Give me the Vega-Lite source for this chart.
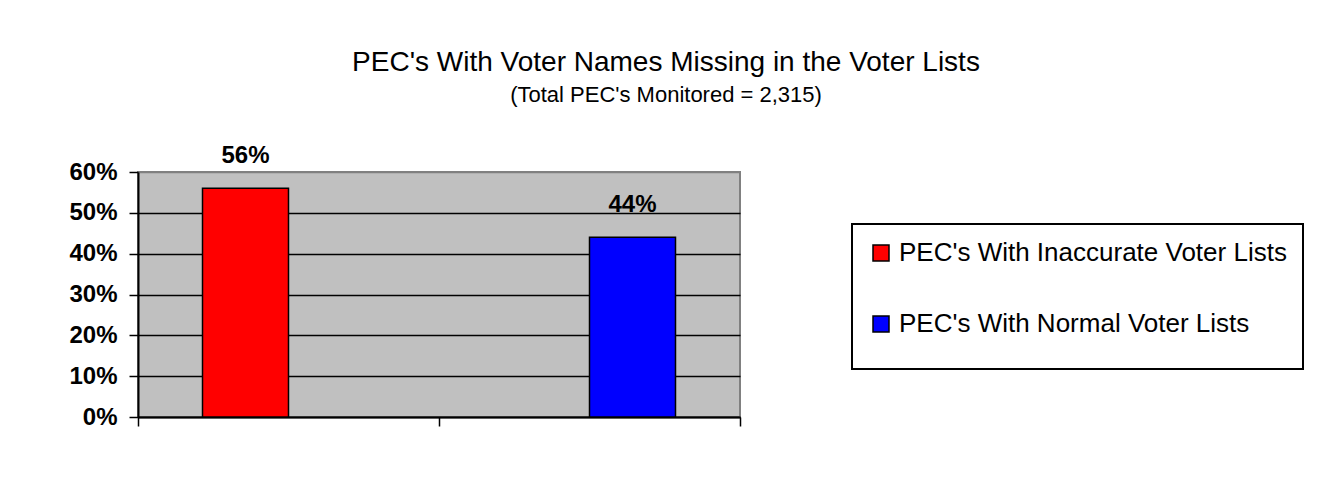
{
  "$schema": "https://vega.github.io/schema/vega-lite/v6.json",
  "autosize": {"type": "none"},
  "width": 602,
  "height": 245,
  "padding": {"left": 138, "top": 172, "right": 587, "bottom": 65},
  "background": "white",
  "title": {
    "text": "PEC's With Voter Names Missing in the Voter Lists",
    "subtitle": "(Total PEC's Monitored = 2,315)",
    "anchor": "middle",
    "frame": "group",
    "dx": 227,
    "offset": 38,
    "font": "Liberation Sans",
    "fontSize": 28,
    "fontWeight": "normal",
    "color": "black",
    "subtitleFont": "Liberation Sans",
    "subtitleFontSize": 22,
    "subtitleColor": "black",
    "subtitlePadding": 8
  },
  "data": {
    "values": [
      {"cat": "A", "series": "PEC's With Inaccurate Voter Lists", "value": 0.56},
      {"cat": "B", "series": "PEC's With Normal Voter Lists", "value": 0.44}
    ]
  },
  "encoding": {
    "x": {
      "field": "cat",
      "type": "nominal",
      "scale": {"domain": ["A", "B"], "paddingInner": 0, "paddingOuter": 0},
      "axis": {
        "title": null,
        "labels": false,
        "tickBand": "extent",
        "tickSize": 9,
        "tickWidth": 1.5,
        "tickColor": "black",
        "domainColor": "black",
        "domainWidth": 2,
        "grid": false
      }
    },
    "xOffset": {
      "field": "series",
      "type": "nominal",
      "scale": {
        "domain": ["PEC's With Inaccurate Voter Lists", "PEC's With Normal Voter Lists"],
        "paddingInner": 0,
        "paddingOuter": 0.75
      }
    },
    "y": {
      "field": "value",
      "type": "quantitative",
      "scale": {"domain": [0, 0.6], "nice": false},
      "axis": {
        "title": null,
        "values": [0, 0.1, 0.2, 0.3, 0.4, 0.5, 0.6],
        "format": ".0%",
        "labelFont": "Liberation Sans",
        "labelFontSize": 24,
        "labelFontWeight": "bold",
        "labelColor": "black",
        "labelPadding": 12,
        "tickSize": 9,
        "tickWidth": 1.5,
        "tickColor": "black",
        "domainColor": "black",
        "domainWidth": 2,
        "grid": true,
        "gridColor": {"condition": {"test": "datum.value >= 0.6", "value": "#808080"}, "value": "black"},
        "gridWidth": 1.5
      }
    }
  },
  "layer": [
    {
      "mark": {"type": "bar", "stroke": "black", "strokeWidth": 1.5},
      "encoding": {
        "color": {
          "field": "series",
          "type": "nominal",
          "scale": {
            "domain": ["PEC's With Inaccurate Voter Lists", "PEC's With Normal Voter Lists"],
            "range": ["#FF0000", "#0000FF"]
          },
          "legend": {
            "title": " ",
            "titleOrient": "bottom",
            "titleFontSize": 2,
            "titlePadding": 14,
            "orient": "none",
            "legendX": 714,
            "legendY": 52,
            "symbolType": "square",
            "symbolSize": 256,
            "symbolStrokeColor": "black",
            "symbolStrokeWidth": 1.5,
            "labelFont": "Liberation Sans",
            "labelFontSize": 26,
            "labelColor": "black",
            "labelLimit": 500,
            "labelOffset": 5,
            "rowPadding": 45,
            "padding": 16,
            "strokeColor": "black",
            "fillColor": "white",
            "encode": {"legend": {"update": {"strokeWidth": {"value": 2}}}}
          }
        }
      }
    },
    {
      "mark": {
        "type": "text",
        "font": "Liberation Sans",
        "fontSize": 24,
        "fontWeight": "bold",
        "color": "black",
        "baseline": "alphabetic",
        "dy": -25
      },
      "encoding": {
        "text": {"field": "value", "type": "quantitative", "format": ".0%"}
      }
    }
  ],
  "config": {
    "view": {"fill": "#C0C0C0", "stroke": "#808080", "strokeWidth": 2}
  }
}
